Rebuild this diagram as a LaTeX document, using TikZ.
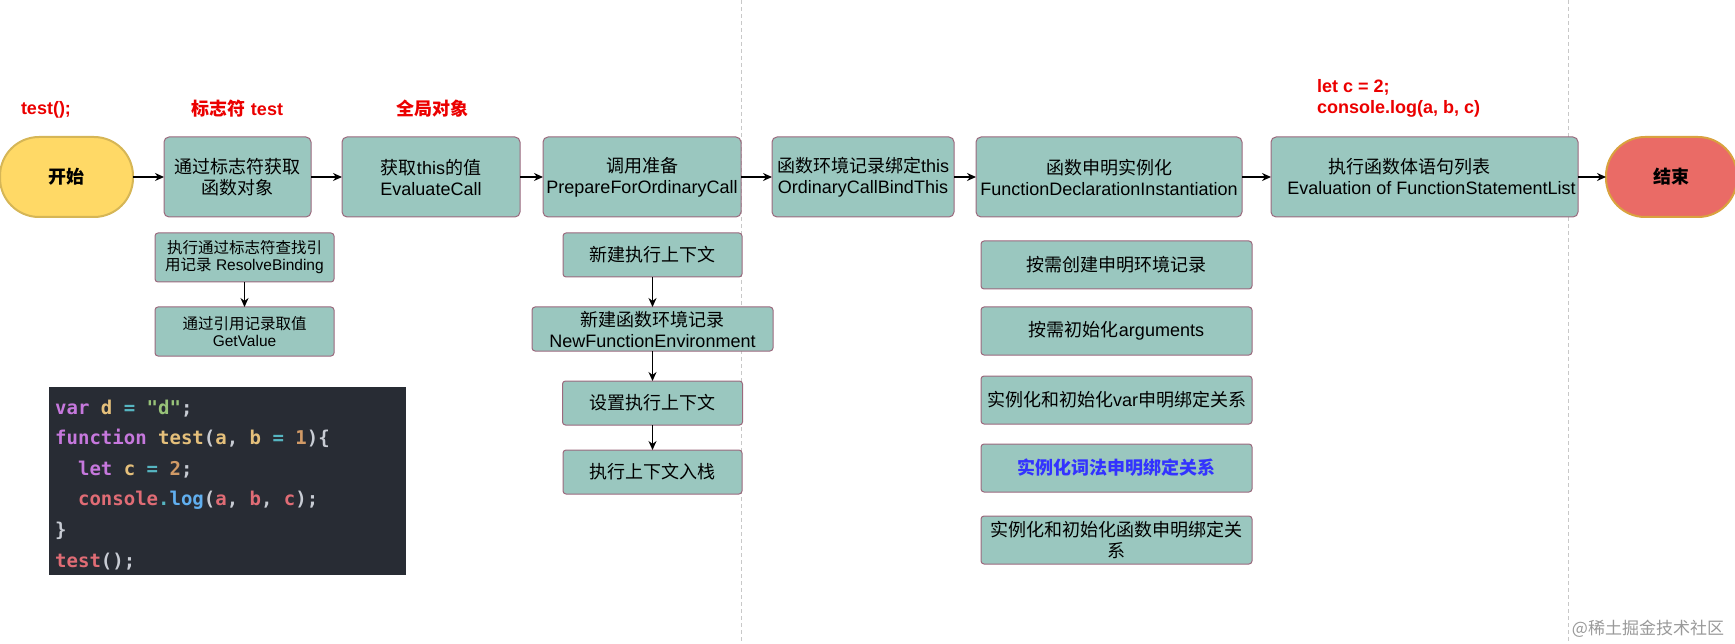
\documentclass[tikz,border=0pt]{standalone}
\usepackage{fontspec}
\usepackage{xcolor}
\usepackage{tikz}
\usetikzlibrary{arrows.meta,positioning}
\setmainfont{Liberation Sans}
\newfontfamily\zhfont{Noto Sans CJK SC}
\newfontfamily\codefont{DejaVu Sans Mono}
\newcommand\zh[1]{{\zhfont #1}}
\definecolor{boxteal}{HTML}{9AC7BF}
\definecolor{boxedge}{RGB}{155,105,125}
\definecolor{startfill}{HTML}{FFD966}
\definecolor{startedge}{HTML}{D6B656}
\definecolor{finishfill}{HTML}{EA6B66}
\definecolor{finishedge}{HTML}{D9A23F}
\definecolor{notered}{RGB}{235,0,0}
\definecolor{lexblue}{HTML}{3333FF}
\definecolor{dashgray}{RGB}{200,200,200}
\definecolor{codebg}{HTML}{282C34}
\definecolor{codeplain}{HTML}{C8CCD4}
\definecolor{codekw}{HTML}{C678DD}
\definecolor{codeid}{HTML}{E5C07B}
\definecolor{codeop}{HTML}{56B6C2}
\definecolor{codestr}{HTML}{98C379}
\definecolor{codenum}{HTML}{D19A66}
\definecolor{codefn}{HTML}{E06C75}
\definecolor{codelog}{HTML}{61AFEF}
\newcommand\ckw[1]{\textcolor{codekw}{#1}}
\newcommand\cid[1]{\textcolor{codeid}{#1}}
\newcommand\cop[1]{\textcolor{codeop}{#1}}
\newcommand\cstr[1]{\textcolor{codestr}{#1}}
\newcommand\cnum[1]{\textcolor{codenum}{#1}}
\newcommand\cfn[1]{\textcolor{codefn}{#1}}
\newcommand\clog[1]{\textcolor{codelog}{#1}}
\tikzset{
 flowbox/.style={
 rectangle,
 rounded corners=5pt,
 draw=boxedge,
 fill=boxteal,
 line width=1pt,
 outer sep=0pt,
 align=center,
 minimum height=80pt,
 inner sep=1pt,
 font=\fontsize{18}{21}\selectfont
 },
 stepbox/.style={
 rectangle,
 rounded corners=3pt,
 draw=boxedge,
 fill=boxteal,
 line width=1pt,
 outer sep=0pt,
 align=center,
 inner sep=1pt,
 font=\fontsize{18}{21}\selectfont
 },
 smallstep/.style={
 stepbox,
 minimum width=179pt,
 minimum height=49pt,
 font=\fontsize{15.5}{17}\selectfont
 },
 terminal/.style={
 rectangle,
 rounded corners=39pt,
 line width=2pt,
 outer sep=0pt,
 minimum height=80pt,
 font=\fontsize{18}{21}\selectfont\bfseries
 },
 note/.style={text=notered, inner sep=0pt, font=\fontsize{18}{21}\selectfont\bfseries},
 codebox/.style={fill=codebg, inner sep=0pt},
 codetext/.style={text=codeplain, align=left, inner sep=0pt, font=\codefont\bfseries\fontsize{19}{30.6}\selectfont},
 watermark/.style={text=black!40, inner sep=0pt, font=\fontsize{17}{20}\selectfont},
 divider/.style={draw=dashgray, line width=1pt, dash pattern=on 4pt off 3pt},
 flowarrow/.style={-{Stealth[length=9pt,width=8pt]}, line width=1.3pt, draw=black}
}

\begin{document}
\begin{tikzpicture}[x=1pt, y=-1pt, node distance=25pt]
 \useasboundingbox (0,0) rectangle (1735,644);

 % dashed separators
 \coordinate (sepA) at (741,0);
 \coordinate (sepAend) at (741,644);
 \coordinate (sepB) at (1568,0);
 \coordinate (sepBend) at (1568,644);
 \draw[divider] (sepA) -- (sepAend);
 \draw[divider] (sepB) -- (sepBend);

 % main row
 \node[terminal, fill=startfill, draw=startedge, minimum width=133pt] (start) at (66.5,177) {\zh{开始}};
 \node[flowbox, minimum width=147pt, right=31pt of start] (lookup) {\zh{通过标志符获取}\\\zh{函数对象}};
 \node[flowbox, minimum width=178pt, right=31pt of lookup] (thisval) {\zh{获取}this\zh{的值}\\EvaluateCall};
 \node[flowbox, minimum width=198pt, right=23pt of thisval] (prepare) {\zh{调用准备}\\PrepareForOrdinaryCall};
 \node[flowbox, minimum width=182pt, right=31pt of prepare] (bindthis) {\zh{函数环境记录绑定}this\\OrdinaryCallBindThis};
 \node[flowbox, minimum width=266pt, right=22pt of bindthis] (declinst) {\zh{函数申明实例化}\\FunctionDeclarationInstantiation};
 \node[flowbox, minimum width=307pt, right=29pt of declinst] (evalbody) {\zh{执行函数体语句列表}\hspace*{30pt}\\\hspace*{14pt}Evaluation of FunctionStatementList};
 \node[terminal, fill=finishfill, draw=finishedge, minimum width=131pt, right=28pt of evalbody] (finish) {\zh{结束}};

 \draw[flowarrow] (start) -- (lookup);
 \draw[flowarrow] (lookup) -- (thisval);
 \draw[flowarrow] (thisval) -- (prepare);
 \draw[flowarrow] (prepare) -- (bindthis);
 \draw[flowarrow] (bindthis) -- (declinst);
 \draw[flowarrow] (declinst) -- (evalbody);
 \draw[flowarrow] (evalbody) -- (finish);

 % red notes
 \node[note] (callnote) at (46,110) {test();};
 \node[note] (identnote) at (237.5,109) {\zh{标志符} test};
 \node[note] (globalnote) at (432,108.5) {\zh{全局对象}};
 \node[note, align=left, anchor=west] (bodynote) at (1317,98.5) {let c = 2;\\console.log(a, b, c)};

 % identifier lookup
 \node[smallstep] (resolve) at (244.5,257.5) {\zh{执行通过标志符查找引}\\\zh{用记录} ResolveBinding};
 \node[smallstep, below=25pt of resolve] (getval) {\zh{通过引用记录取值}\\GetValue};
 \draw[flowarrow] (resolve) -- (getval);

 % call preparation
 \node[stepbox, minimum width=179pt, minimum height=44pt] (newctx) at (652.5,255) {\zh{新建执行上下文}};
 \node[stepbox, minimum width=241pt, minimum height=44pt, below=30pt of newctx] (newenv) {\zh{新建函数环境记录}\\NewFunctionEnvironment};
 \node[stepbox, minimum width=180pt, minimum height=44pt, below=30pt of newenv] (setctx) {\zh{设置执行上下文}};
 \node[stepbox, minimum width=179pt, minimum height=44pt, below=25pt of setctx] (pushctx) {\zh{执行上下文入栈}};
 \draw[flowarrow] (newctx) -- (newenv);
 \draw[flowarrow] (newenv) -- (setctx);
 \draw[flowarrow] (setctx) -- (pushctx);

 % declaration instantiation
 \node[stepbox, minimum width=271pt, minimum height=48pt] (declenv) at (1116.5,265) {\zh{按需创建申明环境记录}};
 \node[stepbox, minimum width=271pt, minimum height=48pt, below=18pt of declenv] (initargs) {\zh{按需初始化}arguments};
 \node[stepbox, minimum width=271pt, minimum height=48pt, below=21pt of initargs] (varbind) {\zh{实例化和初始化}var\zh{申明绑定关系}};
 \node[stepbox, minimum width=271pt, minimum height=48pt, below=20pt of varbind, text=lexblue, font=\fontsize{18}{21}\selectfont\bfseries] (lexbind) {\zh{实例化词法申明绑定关系}};
 \node[stepbox, minimum width=271pt, minimum height=48pt, below=24pt of lexbind] (funcbind) {\zh{实例化和初始化函数申明绑定关}\\\zh{系}};

 % source code
 \node[codebox, minimum width=357pt, minimum height=188pt, anchor=north west] (codebg) at (49,387) {};
 \node[codetext, anchor=north west] (codetext) at (55,399.5) {%
 \ckw{var} \cid{d} \cop{=} \cstr{"d"};\\
 \ckw{function} \cid{test}(\cid{a}, \cid{b} \cop{=} \cnum{1})\{\\
 \phantom{xx}\ckw{let} \cid{c} \cop{=} \cnum{2};\\
 \phantom{xx}\cfn{console}\cop{.}\clog{log}(\cfn{a}, \cfn{b}, \cfn{c});\\
 \}\\
 \cfn{test}();};

 \node[watermark] (mark) at (1648,629) {\zh{@稀土掘金技术社区}};
\end{tikzpicture}
\end{document}
